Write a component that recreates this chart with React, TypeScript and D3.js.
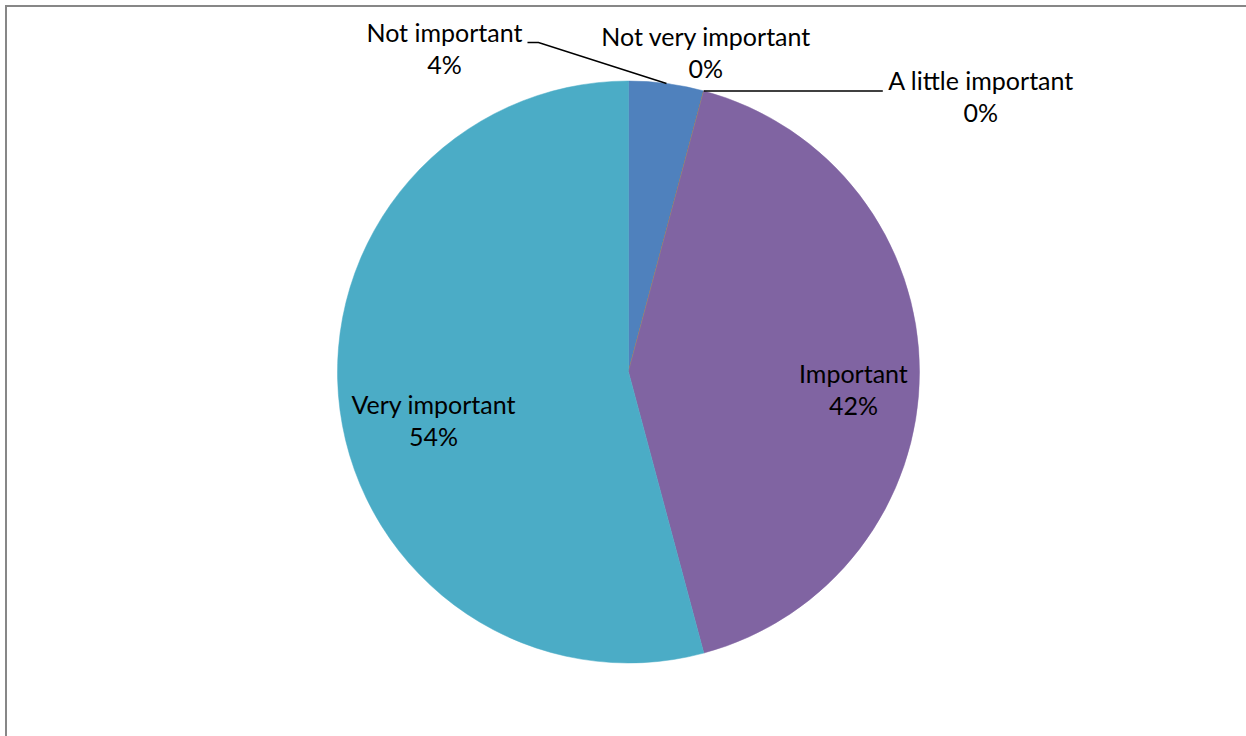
import React from "react";
import * as d3 from "d3";

const categories = ["Not important", "Not very important", "A little important", "Important", "Very important"];
const counts = [1, 0, 0, 10, 13];
const colors = ["#4F81BD", "#C0504D", "#9BBB59", "#8064A2", "#4BACC6"];

const W = 1246;
const H = 736;
const CX = 628.5;
const CY = 372;
const R = 291;
const FONT = "Lato, Carlito, Calibri, sans-serif";
const FS = 25;
const LH = 32;

type Pt = [number, number];

export default function App() {
  const total = d3.sum(counts);
  const pie = d3.pie<number>().sort(null).value((d) => d);
  const arcs = pie(counts);
  const arc = d3.arc<d3.PieArcDatum<number>>().innerRadius(0).outerRadius(R);
  const polar = (a: number, r: number): Pt => [CX + r * Math.sin(a), CY - r * Math.cos(a)];
  const pct = (v: number) => `${Math.round((v / total) * 100)}%`;

  const labels: { name: string; value: string; x: number; y: number; anchor: string; leader?: Pt[] }[] = [];
  arcs.forEach((a, i) => {
    const mid = (a.startAngle + a.endAngle) / 2;
    const name = categories[i];
    const value = pct(counts[i]);
    if (i === 0) {
      const edge = polar(mid, R);
      labels.push({ name, value, x: edge[0] - 222, y: edge[1] - 41, anchor: "middle", leader: [edge, [edge[0] - 128, edge[1] - 41], [edge[0] - 139, edge[1] - 41]] });
    } else if (i === 1) {
      const edge = polar(mid, R);
      labels.push({ name, value, x: edge[0] + 2, y: edge[1] - 45, anchor: "middle" });
    } else if (i === 2) {
      const edge = polar(mid, R);
      labels.push({ name, value, x: edge[0] + 277, y: edge[1] - 1, anchor: "middle", leader: [edge, [edge[0] + 179, edge[1]]] });
    } else if (i === 3) {
      const p = polar(mid, R * 0.773);
      labels.push({ name, value, x: p[0], y: p[1] + 11, anchor: "middle" });
    } else {
      const p = polar(mid, R * 0.676);
      labels.push({ name, value, x: p[0], y: p[1] + 16, anchor: "middle" });
    }
  });

  return (
    <svg width={W} height={H} style={{ display: "block", position: "absolute", left: 0, top: 0 }}>
      <rect x={0} y={0} width={W} height={H} fill="#ffffff" />
      <rect x={6} y={6} width={W + 20} height={H + 20} fill="#ffffff" stroke="#878787" strokeWidth={2} />
      <g>
        {arcs.map((a, i) => (
          <path
            key={categories[i]}
            d={arc(a) || ""}
            transform={`translate(${CX},${CY})`}
            fill={colors[i]}
            stroke={colors[i]}
            strokeWidth={0.5}
          />
        ))}
      </g>
      <g fill="none" stroke="#000" strokeWidth={1.5}>
        {labels.filter((l) => l.leader).map((l) => (
          <polyline key={l.name} points={l.leader!.map((p) => p.join(",")).join(" ")} />
        ))}
      </g>
      <g fontFamily={FONT} fontSize={FS} fill="#000">
        {labels.map((l) => (
          <text key={l.name} x={l.x} y={l.y} textAnchor={l.anchor}>
            <tspan x={l.x}>{l.name}</tspan>
            <tspan x={l.x} dy={LH}>{l.value}</tspan>
          </text>
        ))}
      </g>
    </svg>
  );
}
